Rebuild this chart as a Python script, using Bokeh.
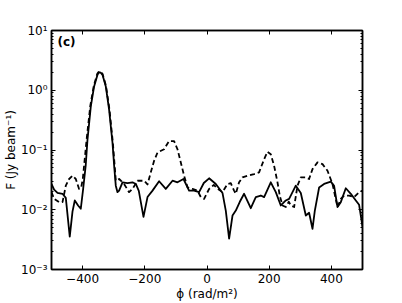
from bokeh.plotting import figure
from bokeh.models import FixedTicker, LinearAxis, LogAxis, Label, CustomJSTickFormatter
from bokeh.embed import file_html
from bokeh.resources import INLINE

# Solid curve
phi_solid = [-500, -491.6, -480.7, -464.6, -454, -441.3, -432.5, -425.1, -414.5, -405.8,
             -398.4, -390, -384.2, -373.6, -363, -352.1, -348.5, -344.7, -341, -336, -325.4,
             -314.8, -303.9, -298, -293.3, -287.8, -282.6, -271.7, -255.6, -239.5, -228.9,
             -219.3, -204.2, -191.3,
             -175.2, -154, -132.5, -110.9, -94.9, -75.6, -57.6, -41.5, -25.4, -10.3,
             6.8, 28.3, 49.8, 60.5, 71.1, 82, 92.6, 105.5, 119.3, 140.8,
             156.9, 173, 183.6, 205.1, 221.2, 237.3, 253.4, 264, 285.5, 301.6,
             317.7, 328.3, 339.2, 346.6, 360.5, 376.5, 398.1, 408.7, 419.6, 430.2,
             446.3, 462.4, 478.5, 489.1, 500]
F_solid = [0.027, 0.0217, 0.0191, 0.0185, 0.0158, 0.00356, 0.0093, 0.0143, 0.0118, 0.0104,
           0.0220, 0.055, 0.151, 0.538, 1.16, 1.81, 1.95, 2.0, 1.95, 1.81, 1.16,
           0.474, 0.133, 0.05, 0.0253, 0.0197, 0.0209, 0.0288, 0.0278, 0.0288, 0.027,
           0.0207, 0.0076, 0.0163,
           0.0209, 0.030, 0.0223, 0.0306, 0.0288, 0.0327, 0.0209, 0.0209, 0.0197, 0.028,
           0.0336, 0.027, 0.0191, 0.0096, 0.0033, 0.0080, 0.0097, 0.0136, 0.0185, 0.0106,
           0.0163, 0.0173, 0.0163, 0.0288, 0.0197, 0.0118, 0.0143, 0.0152, 0.0253, 0.0191,
           0.0080, 0.0089, 0.0048, 0.0096, 0.0236, 0.027, 0.0295, 0.0251, 0.0111, 0.0134,
           0.0229, 0.0185, 0.0143, 0.0121, 0.0052]

# Dashed curve
phi_dash = [-500, -491.6, -475.6, -464.6, -454, -443.4, -432.5, -421.9, -411.3, -404.2,
            -399.4, -386.5, -375.2, -364, -352.8, -348.8, -344.7, -340.5, -336, -324.8,
            -313.5, -302.9,
            -294.8, -293.3, -282.6, -266.6, -250.5, -239.5, -223.5, -202.3, -191.3, -180.7,
            -170.1, -159.2, -138, -121.9, -105.8, -94.9, -84.2, -73.6, -62.7, -46.6,
            -30.5, -19.9, -9.3, 6.8, 21.9, 34.7, 49.8, 65.9, 76.5, 87.1,
            92.6, 103.2, 114.1, 130.2, 151.4, 167.5, 183.6, 194.5, 205.1, 215.8,
            226.7, 234.1, 242.8, 253.4, 263, 269.5, 280.1, 291, 301.6, 317.7,
            328.3, 339.2, 355.3, 371.4, 387.5, 403.5, 419.6, 430.2, 440.8, 456.9,
            473, 489.1, 500]
F_dash = [0.0197, 0.0152, 0.0134, 0.0134, 0.0253, 0.0327, 0.0371, 0.0327, 0.0223, 0.0241,
          0.0327, 0.16, 0.553, 1.19, 1.88, 2.02, 2.07, 2.02, 1.88, 1.19,
          0.47, 0.135,
          0.0396, 0.0306, 0.0327, 0.027, 0.0197, 0.0223, 0.0306, 0.0306, 0.0265, 0.0423,
          0.0658, 0.0907, 0.103, 0.141, 0.141, 0.103, 0.062, 0.037, 0.0238, 0.0223,
          0.0209, 0.0163, 0.0152, 0.0223, 0.026, 0.0223, 0.0197, 0.027, 0.0278, 0.0209,
          0.0185, 0.0288, 0.0349, 0.0371, 0.0396, 0.0423, 0.070, 0.0935, 0.085, 0.0543,
          0.0288, 0.017, 0.0118, 0.0111, 0.0136, 0.0118, 0.0111, 0.0253, 0.0349, 0.0349,
          0.0327, 0.0479, 0.062, 0.058, 0.0449, 0.027, 0.0111, 0.0152, 0.0173, 0.0173,
          0.0163, 0.0197, 0.0209]

x_ticks = [-400, -200, 0, 200, 400]
y_ticks = [1e-3, 1e-2, 1e-1, 1e0, 1e1]
y_minor = [m * d for d in [1e-3, 1e-2, 1e-1, 1e0] for m in range(2, 10)]

FONT = "DejaVu Sans"

p = figure(width=394, height=303, x_range=(-500, 500), y_range=(1e-3, 1e1),
           y_axis_type="log", output_backend="svg", toolbar_location=None,
           min_border_left=51, min_border_right=32, min_border_top=30,
           min_border_bottom=32)
p.background_fill_color = "white"
p.border_fill_color = "white"
p.grid.visible = False
p.outline_line_color = "black"
p.outline_line_width = 1.5

p.line(phi_solid, F_solid, line_color="black", line_width=1.8, line_join="round")
p.line(phi_dash, F_dash, line_color="black", line_width=1.8, line_dash="5 3",
       line_join="round")

xfmt = CustomJSTickFormatter(code="return tick < 0 ? '\\u2212' + Math.abs(tick) : String(tick);")
yfmt = CustomJSTickFormatter(code="""
const e = Math.round(Math.log10(tick));
const sup = {'-':'\\u207B','0':'\\u2070','1':'\\u00B9','2':'\\u00B2','3':'\\u00B3'};
return '10' + String(e).split('').map(c => sup[c]).join('');
""")

def style(ax):
    ax.axis_line_color = "black"
    ax.axis_line_width = 1.5
    ax.major_tick_in = 4
    ax.major_tick_out = 0
    ax.minor_tick_in = 2
    ax.minor_tick_out = 0
    ax.major_tick_line_color = "black"
    ax.minor_tick_line_color = "black"
    ax.major_label_text_font = FONT
    ax.major_label_text_color = "black"
    ax.major_label_text_font_size = "12px"

xax = p.xaxis[0]
xax.ticker = FixedTicker(ticks=x_ticks)
xax.formatter = xfmt
style(xax)
xax.minor_tick_line_color = None
xax.major_label_standoff = 4
xax.axis_label = "\u03D5 (rad/m\u00B2)"
xax.axis_label_text_font = FONT
xax.axis_label_text_font_style = "normal"
xax.axis_label_text_font_size = "12px"
xax.axis_label_text_color = "black"
xax.axis_label_standoff = 1

yax = p.yaxis[0]
yax.ticker = FixedTicker(ticks=y_ticks, minor_ticks=y_minor)
yax.formatter = yfmt
style(yax)
yax.major_label_standoff = 4
yax.axis_label = "F (Jy beam\u207B\u00B9)"
yax.axis_label_text_font = FONT
yax.axis_label_text_font_style = "normal"
yax.axis_label_text_font_size = "12px"
yax.axis_label_text_color = "black"
yax.axis_label_standoff = 0

top = LinearAxis(ticker=FixedTicker(ticks=x_ticks), formatter=xfmt)
style(top)
top.minor_tick_line_color = None
top.major_label_text_color = None
top.major_label_standoff = 0
p.add_layout(top, "above")

right = LogAxis(ticker=FixedTicker(ticks=y_ticks, minor_ticks=y_minor), formatter=yfmt)
style(right)
right.major_label_text_color = None
right.major_label_standoff = 0
p.add_layout(right, "right")

p.add_layout(Label(x=6, y=221, x_units="screen", y_units="screen", text="(c)",
                   text_font=FONT, text_font_style="bold", text_font_size="12px",
                   text_color="black"))

open("out.html", "w").write(file_html(p, INLINE))
